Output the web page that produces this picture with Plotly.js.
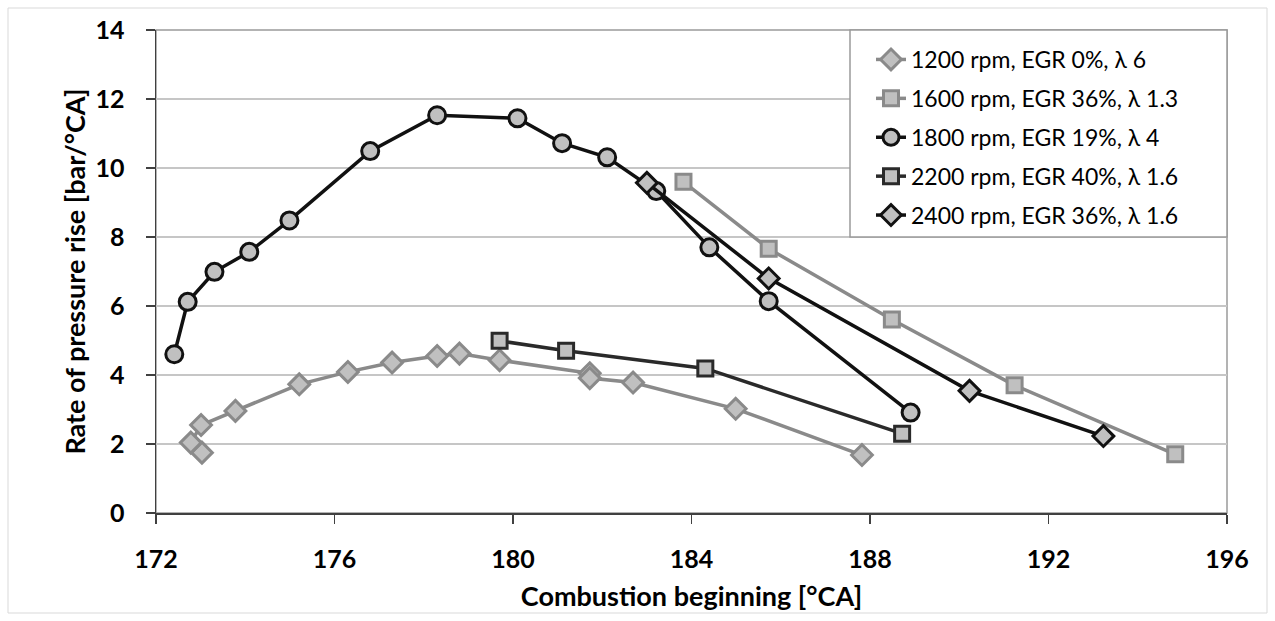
<!DOCTYPE html>
<html>
<head>
<meta charset="utf-8">
<script src="https://cdn.plot.ly/plotly-3.0.1.min.js"></script>
<style>html,body{margin:0;padding:0;background:#fff;}#chart{width:1275px;height:621px;}</style>
</head>
<body>
<div id="chart"></div>
<script>
// ---- data ----
const names = [
  "1200 rpm, EGR 0%, \u03bb 6",
  "1600 rpm, EGR 36%, \u03bb 1.3",
  "1800 rpm, EGR 19%, \u03bb 4",
  "2200 rpm, EGR 40%, \u03bb 1.6",
  "2400 rpm, EGR 36%, \u03bb 1.6"
];
const x1200 = [173.03, 172.78, 173.01, 173.78, 175.21, 176.30, 177.29, 178.30, 178.80, 179.70, 181.72, 181.72, 182.69, 184.99, 187.82];
const y1200 = [1.75, 2.04, 2.55, 2.96, 3.73, 4.09, 4.36, 4.55, 4.62, 4.43, 4.05, 3.91, 3.78, 3.02, 1.68];
const x1600 = [183.82, 185.73, 188.49, 191.24, 194.84];
const y1600 = [9.60, 7.66, 5.61, 3.70, 1.70];
const x1800 = [172.41, 172.71, 173.31, 174.09, 174.99, 176.80, 178.30, 180.10, 181.10, 182.11, 183.21, 184.40, 185.73, 188.91];
const y1800 = [4.60, 6.12, 6.99, 7.57, 8.48, 10.49, 11.53, 11.44, 10.72, 10.31, 9.33, 7.70, 6.14, 2.91];
const x2200 = [179.70, 181.19, 184.31, 188.72];
const y2200 = [4.99, 4.70, 4.19, 2.30];
const x2400 = [183.00, 185.73, 190.23, 193.23];
const y2400 = [9.57, 6.80, 3.54, 2.23];
const xTicks = [172, 176, 180, 184, 188, 192, 196];
const yTicks = [0, 2, 4, 6, 8, 10, 12, 14];

// ---- layout geometry ----
const W = 1275, H = 621;
const M = {l: 156, r: 48, t: 30, b: 108};
const PW = W - M.l - M.r, PH = H - M.t - M.b;
const px = v => (v - M.l) / PW;          // pixel x -> paper
const py = v => (H - M.b - v) / PH;      // pixel y -> paper

const fill = '#c0c0c0';
function tr(x, y, name, sym, size, mline, lcol, lw, grp) {
  return {
    x: x, y: y, name: name, type: 'scatter', mode: 'lines+markers',
    legendgroup: grp,
    line: {color: lcol, width: lw},
    marker: {symbol: sym, size: size, color: fill, line: {color: mline, width: 3}}
  };
}
const data = [
  tr(x1200, y1200, names[0], 'diamond', 16, '#8a8a8a', '#8a8a8a', 3.5, 'a'),
  tr(x1600, y1600, names[1], 'square', 15, '#8a8a8a', '#8a8a8a', 3.5, 'b'),
  tr(x1800, y1800, names[2], 'circle', 17, '#111111', '#111111', 3.5, 'c'),
  tr(x2200, y2200, names[3], 'square', 15, '#2a2a2a', '#2a2a2a', 3.5, 'd'),
  tr(x2400, y2400, names[4], 'diamond', 16, '#111111', '#111111', 3.5, 'e')
];

const fontFam = 'Lato, "Open Sans", sans-serif';
const layout = {
  width: W, height: H,
  margin: M,
  paper_bgcolor: '#ffffff', plot_bgcolor: '#ffffff',
  font: {family: fontFam, color: '#000'},
  showlegend: true,
  legend: {
    x: px(871), y: py(38), xanchor: 'left', yanchor: 'top',
    bgcolor: 'rgba(0,0,0,0)', borderwidth: 0,
    font: {family: fontFam, size: 23, color: '#000'},
    tracegroupgap: 6, itemwidth: 30
  },
  xaxis: {
    range: [172, 196], tickvals: xTicks, ticktext: xTicks.map(String),
    showgrid: false, zeroline: false,
    showline: true, linecolor: '#404040', linewidth: 1.5,
    ticks: 'outside', ticklen: 9, tickcolor: '#404040', tickwidth: 1.5,
    ticklabelstandoff: 14,
    tickfont: {family: fontFam, size: 25, weight: 'bold', color: '#000'},
    title: {text: 'Combustion beginning [\u00b0CA]', font: {family: fontFam, size: 27, weight: 'bold', color: '#000'}, standoff: 15}
  },
  yaxis: {
    range: [0, 14], tickvals: yTicks, ticktext: yTicks.map(String),
    showgrid: true, gridcolor: '#c6c6c6', gridwidth: 1.5,
    zeroline: false,
    showline: true, linecolor: '#404040', linewidth: 1.5,
    ticks: 'outside', ticklen: 9, tickcolor: '#404040', tickwidth: 1.5,
    ticklabelstandoff: 16,
    tickfont: {family: fontFam, size: 25, weight: 'bold', color: '#000'},
    title: {text: 'Rate of pressure rise [bar/\u00b0CA]', font: {family: fontFam, size: 27, weight: 'bold', color: '#000'}, standoff: 2}
  },
  shapes: [
    {type: 'rect', xref: 'paper', yref: 'paper', x0: 0, x1: 1, y0: 0, y1: 1,
     line: {color: '#9a9a9a', width: 1.5}, layer: 'below'},
    {type: 'rect', xref: 'paper', yref: 'paper', x0: px(850), x1: 1, y0: py(237), y1: 1,
     line: {color: '#9a9a9a', width: 1.5}, fillcolor: '#ffffff', layer: 'above'},
    {type: 'rect', xref: 'paper', yref: 'paper', x0: px(8), x1: px(1267), y0: py(613), y1: py(8),
     line: {color: '#d9d9d9', width: 1}, layer: 'below'}
  ]
};

Plotly.newPlot('chart', data, layout, {staticPlot: true, displayModeBar: false});
</script>
</body>
</html>
